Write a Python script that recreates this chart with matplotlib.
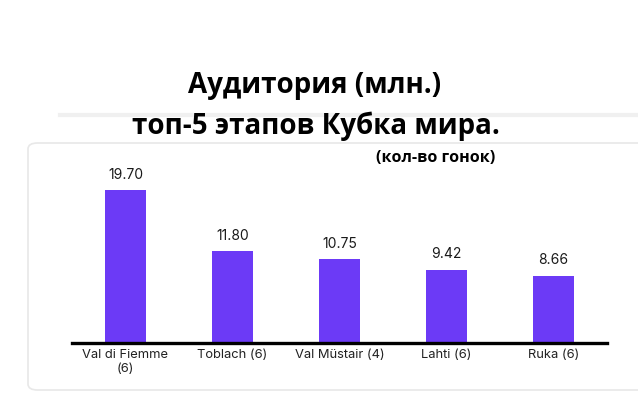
import matplotlib
matplotlib.use("Agg")
import matplotlib.pyplot as plt
from matplotlib.patches import FancyBboxPatch
from matplotlib.lines import Line2D

stages = ["Val di Fiemme\n(6)", "Toblach (6)", "Val Müstair (4)", "Lahti (6)", "Ruka (6)"]
audience = [19.70, 11.80, 10.75, 9.42, 8.66]
title_lines = ["Аудитория (млн.)", "топ-5 этапов Кубка мира."]
subtitle = "(кол-во гонок)"

bar_color = "#6c3af6"
title_font = "Open Sans"

fig = plt.figure(figsize=(6.38, 3.94), dpi=100)
W, H = 638, 394

# card background with faint border
card = FancyBboxPatch((28 / W, 4 / H), 640 / W, 247 / H,
                      boxstyle="round,pad=0,rounding_size=0.015",
                      transform=fig.transFigure, facecolor="white",
                      edgecolor="#e8e8e8", linewidth=1.2, zorder=-5)
fig.patches.append(card)
# faint shadow strip behind the title
fig.add_artist(Line2D([60 / W, 1.0], [1 - 115 / H, 1 - 115 / H], transform=fig.transFigure,
                      color="#f0f0f0", linewidth=3, zorder=-5))

ax = fig.add_axes([72 / W, 51 / H, 535 / W, 173 / H])
ax.set_zorder(5)
ax.patch.set_alpha(0)
x = range(len(stages))
bars = ax.bar(x, audience, width=0.39, color=bar_color)
ax.set_xlim(-0.5, 4.5)
ax.set_ylim(0, 22.27)

for xi, v in zip(x, audience):
    ax.annotate(f"{v:.2f}", (xi, v), xytext=(0, 6), textcoords="offset points",
                ha="center", va="bottom", fontsize=10, family="Inter", color="#1a1a1a")

for s in ["top", "right", "left"]:
    ax.spines[s].set_visible(False)
ax.spines["bottom"].set_linewidth(2.4)
ax.spines["bottom"].set_color("black")
ax.set_yticks([])
ax.set_xticks(list(x))
ax.set_xticklabels(stages, fontsize=9.3, family="Inter", color="#222222", linespacing=1.2)
ax.tick_params(axis="x", length=0, pad=4.5)

fig.text(315 / W, 1 - 93 / H, title_lines[0], ha="center", va="baseline",
         fontsize=20, fontweight="bold", family=title_font, zorder=10)
fig.text(316 / W, 1 - 134 / H, title_lines[1], ha="center", va="baseline",
         fontsize=20, fontweight="bold", family=title_font, zorder=10)
fig.text(436 / W, 1 - 162 / H, subtitle, ha="center", va="baseline",
         fontsize=11.5, fontweight="bold", family=title_font, zorder=10)

fig.savefig("out.png", dpi=100)
